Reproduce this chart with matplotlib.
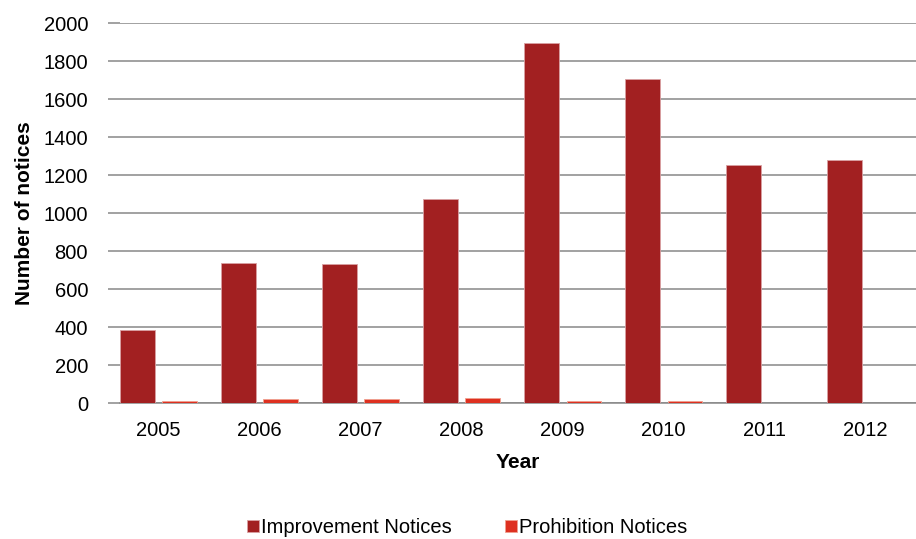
import numpy as np
import matplotlib.pyplot as plt

plt.rcParams['font.family'] = ['Liberation Sans', 'DejaVu Sans']

years = ['2005', '2006', '2007', '2008', '2009', '2010', '2011', '2012']
improvement = [385, 738, 733, 1075, 1895, 1705, 1253, 1279]
prohibition = [10, 21, 21, 26, 10, 10, 0, 0]

x = np.arange(len(years))
w = 0.345

fig = plt.figure(figsize=(9.16, 5.39), dpi=100)
ax = fig.add_axes([0.131, 0.2523, 0.869, 0.7047])

ax.bar(x - 0.205, improvement, w, color='#A22021', edgecolor='#D9A0A3', linewidth=0.6,
       label='Improvement Notices', zorder=3)
ax.bar(x + 0.215, prohibition, w, color='#DE3020', edgecolor='#F0A090', linewidth=0.6,
       label='Prohibition Notices', zorder=3)

ax.set_xlim(-0.376, 7.5)
ax.set_ylim(0, 2000)
ax.set_yticks(range(0, 2001, 200))
ax.set_xticks(x)
ax.set_xticklabels(years)

ax.yaxis.grid(True, color='#878787', linewidth=1.1, zorder=0)
for side in ['top', 'right', 'left']:
    ax.spines[side].set_visible(False)
ax.spines['bottom'].set_color('#878787')
ax.spines['bottom'].set_linewidth(1.1)
ax.tick_params(axis='y', length=9, color='#878787', width=1.1, labelsize=14.5, pad=14)
ax.tick_params(axis='x', length=0, labelsize=14.5, pad=13)

ax.set_ylabel('Number of notices', fontsize=15, fontweight='bold', labelpad=7)
ax.set_xlabel('Year', fontsize=15, fontweight='bold', labelpad=9)

fig.legend(loc='lower center', bbox_to_anchor=(0.51, -0.03), ncol=2, frameon=False,
           fontsize=14.5, handlelength=0.6, handleheight=0.6, handletextpad=0.1,
           columnspacing=2.6)

fig.savefig('out.png', dpi=100)
